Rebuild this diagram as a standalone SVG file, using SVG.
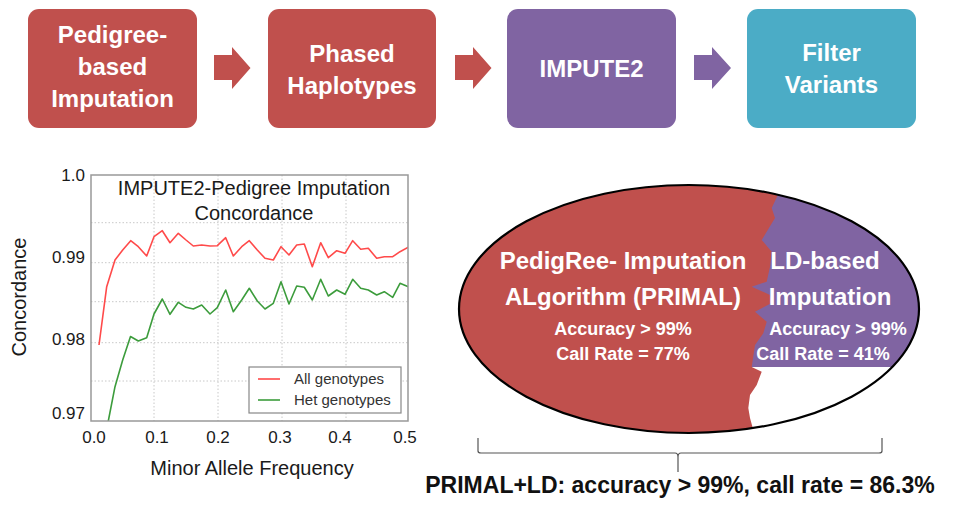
<svg xmlns="http://www.w3.org/2000/svg" width="973" height="507" viewBox="0 0 973 507">
<style>
.box{stroke:none}
.bt{font-family:"Liberation Sans",Arial,sans-serif;font-weight:bold;font-size:24px;fill:#fff;text-anchor:middle}
.ax{font-family:"Liberation Sans",Arial,sans-serif;font-size:17px;fill:#1a1a1a}
.lab{font-family:"Liberation Sans",Arial,sans-serif;font-size:20px;fill:#1a1a1a}
.leg{font-family:"Liberation Sans",Arial,sans-serif;font-size:15px;fill:#333}
.grid{stroke:#c8c8c8;stroke-width:1;stroke-dasharray:1.5,2;fill:none}
.et{font-family:"Liberation Sans",Arial,sans-serif;font-weight:bold;fill:#fff;text-anchor:middle}
</style>
<defs>
<clipPath id="ellclip"><ellipse cx="689" cy="309" rx="230" ry="124"/></clipPath>
<clipPath id="plotclip"><rect x="91" y="175" width="317" height="246"/></clipPath>
</defs>

<g id="node-pedigree">
<rect class="box" x="28" y="9" width="169" height="119" rx="11" fill="#C0504D"/>
<text class="bt" x="112.5" y="43">Pedigree-</text>
<text class="bt" x="112.5" y="75">based</text>
<text class="bt" x="112.5" y="107">Imputation</text>
</g>
<g id="node-phased">
<rect class="box" x="268" y="9" width="168" height="119" rx="11" fill="#C0504D"/>
<text class="bt" x="352" y="62">Phased</text>
<text class="bt" x="352" y="94">Haplotypes</text>
</g>
<g id="node-impute2">
<rect class="box" x="507" y="9" width="169" height="119" rx="11" fill="#8064A2"/>
<text class="bt" x="591.5" y="77">IMPUTE2</text>
</g>
<g id="node-filter">
<rect class="box" x="747" y="9" width="169" height="119" rx="11" fill="#4BACC6"/>
<text class="bt" x="831.5" y="61">Filter</text>
<text class="bt" x="831.5" y="93">Variants</text>
</g>

<g id="connectors">
<polygon points="214,55 232,55 232,47 250.5,68 232,89 232,80 214,80" fill="#C0504D"/>
<polygon points="455,55 473,55 473,47 491.5,68 473,89 473,80 455,80" fill="#C0504D"/>
<polygon points="694,55 712,55 712,47 731,68 712,89 712,80 694,80" fill="#8064A2"/>
</g>

<g id="chart">
<rect x="91" y="175" width="317" height="246" fill="#fff"/>
<g class="grid">
<line x1="154" y1="175" x2="154" y2="421"/>
<line x1="218" y1="175" x2="218" y2="421"/>
<line x1="282" y1="175" x2="282" y2="421"/>
<line x1="346" y1="175" x2="346" y2="421"/>
<line x1="91" y1="222.7" x2="408" y2="222.7"/>
<line x1="91" y1="262.7" x2="408" y2="262.7"/>
<line x1="91" y1="301.7" x2="408" y2="301.7"/>
<line x1="91" y1="342.7" x2="408" y2="342.7"/>
<line x1="91" y1="381" x2="408" y2="381"/>
</g>
<g clip-path="url(#plotclip)" fill="none" stroke-width="1.6" stroke-linejoin="round">
<polyline stroke="#ff4a4a" points="99,345 106.7,286.7 115,260 122.7,250 130.7,240.7 138.3,246.7 146.7,256 154,236.7 162.3,230.7 170,242.7 178.3,233.3 186,240 193.3,246 201.7,245 210,246 217.3,245.7 225.7,237.7 233.3,256 241.7,246.7 249.3,240.7 257.3,250 265,258.3 273.3,260 281,246.7 289,255 296.7,245 304.3,244 312.3,266.7 320.7,242.7 328.3,257.7 336.7,250.7 345,253.3 352.7,240.7 360.7,249.3 368.3,248.3 376.7,258.3 384.3,256.7 392.7,256.7 400,251.7 408.3,247.3"/>
<polyline stroke="#3c9c3c" points="107,428 108.3,421 115,386.7 122.7,360 130.5,336.5 138.3,341 146.7,337.7 154,314 162.3,299 170,314.3 178.3,302.3 186,307.3 193.3,309 201.7,305 210,314 217.3,307.7 225.7,290 233.3,311.7 241.7,300 249.3,288.3 257.3,301 265,309 273.3,303.3 281,281.7 289,304 296.7,286 304.3,287.3 312.3,300 320.7,279.3 328.3,296 336.7,290 345,294.3 352.7,279.3 360.7,288.3 368.3,290 376.7,295 384.3,291.7 392.7,297.3 400,283.3 408.3,286.7"/>
</g>
<rect x="91" y="175" width="317" height="246" fill="none" stroke="#999" stroke-width="1.5"/>
<rect x="249" y="367" width="152" height="46" fill="#fff" stroke="#888" stroke-width="1.2"/>
<line x1="258" y1="379" x2="280" y2="379" stroke="#ff4a4a" stroke-width="1.6"/>
<line x1="258" y1="400" x2="280" y2="400" stroke="#3c9c3c" stroke-width="1.6"/>
<text class="leg" x="294" y="384">All genotypes</text>
<text class="leg" x="294" y="405">Het genotypes</text>
<text class="lab" x="254" y="195" text-anchor="middle">IMPUTE2-Pedigree Imputation</text>
<text class="lab" x="254" y="220" text-anchor="middle">Concordance</text>
<g class="ax" text-anchor="end">
<text x="85" y="181">1.0</text>
<text x="85" y="263">0.99</text>
<text x="85" y="345">0.98</text>
<text x="85" y="419">0.97</text>
</g>
<g class="ax" text-anchor="middle">
<text x="94" y="443">0.0</text>
<text x="157" y="443">0.1</text>
<text x="218" y="443">0.2</text>
<text x="280" y="443">0.3</text>
<text x="340" y="443">0.4</text>
<text x="405" y="443">0.5</text>
</g>
<text class="lab" x="252" y="475" text-anchor="middle">Minor Allele Frequency</text>
<text class="lab" transform="translate(26,297) rotate(-90)" text-anchor="middle">Concordance</text>
</g>

<g id="venn">
<ellipse cx="689" cy="309" rx="230" ry="124" fill="#C0504D"/>
<g clip-path="url(#ellclip)">
<polygon fill="#8064A2" points="785,180 771.7,208 775,218 761.7,240 771.7,251.7 770,266.7 766.7,281.7 751.7,286.7 770,295 771.7,303 755,311.7 766.7,321.7 763.3,333.3 755,345 751.7,367 930,367 930,180"/>
<polygon fill="#fff" points="751.7,367 930,367 930,440 753,440 753.3,430 750,418 748.3,408 750,395 756.7,385 761.7,371.7"/>
</g>
<ellipse cx="689" cy="309" rx="230" ry="124" fill="none" stroke="#000" stroke-width="2.2"/>
<text class="et" x="623" y="269" font-size="24">PedigRee- Imputation</text>
<text class="et" x="623" y="305" font-size="24">ALgorithm (PRIMAL)</text>
<text class="et" x="623" y="335" font-size="18">Accuracy &gt; 99%</text>
<text class="et" x="623" y="360" font-size="18">Call Rate = 77%</text>
<text class="et" x="825" y="269" font-size="24">LD-based</text>
<text class="et" x="830" y="305" font-size="24">Imputation</text>
<text class="et" x="838" y="335" font-size="18">Accuracy &gt; 99%</text>
<text class="et" x="823" y="360" font-size="18">Call Rate = 41%</text>
</g>

<g id="summary">
<path d="M478,438 V451 Q478,453 481,453 H675 Q678,453 678,457 V472 M678,457 Q678,453 681,453 H879 Q882,453 882,451 V438" fill="none" stroke="#555" stroke-width="1.2"/>
<text x="680" y="493" text-anchor="middle" font-family="'Liberation Sans',Arial,sans-serif" font-weight="bold" font-size="23" fill="#111">PRIMAL+LD: accuracy &gt; 99%, call rate = 86.3%</text>
</g>
</svg>
